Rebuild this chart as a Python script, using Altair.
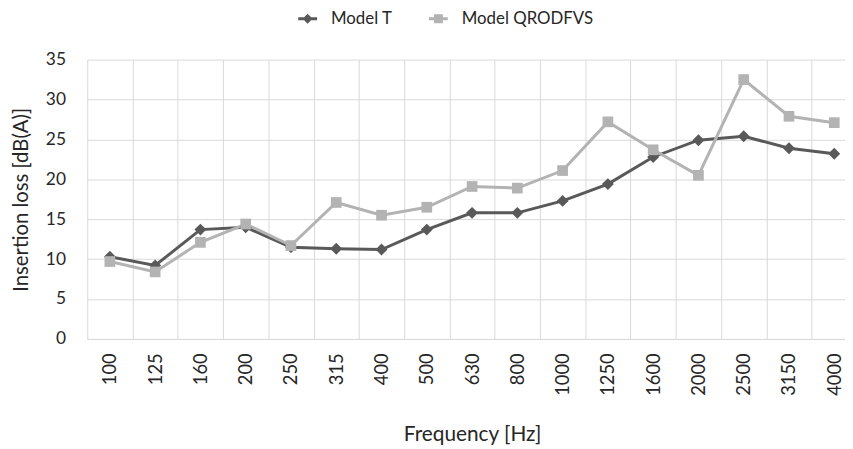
import altair as alt
import pandas as pd

frequencies = ["100", "125", "160", "200", "250", "315", "400", "500", "630",
               "800", "1000", "1250", "1600", "2000", "2500", "3150", "4000"]
model_t = [10.3, 9.2, 13.7, 14.0, 11.5, 11.3, 11.2, 13.7, 15.8,
           15.8, 17.3, 19.4, 22.8, 24.9, 25.4, 23.9, 23.2]
model_qrodfvs = [9.7, 8.4, 12.1, 14.4, 11.7, 17.1, 15.5, 16.5, 19.1,
                 18.9, 21.1, 27.2, 23.7, 20.5, 32.5, 27.9, 27.1]
series_names = ["Model T", "Model QRODFVS"]
series_colors = ["#595959", "#b3b3b3"]
marker_paths = ["M0,-1L1,0L0,1L-1,0Z",
                "M-0.9,-0.9H0.9V0.9H-0.9Z"]
legend_paths = ["M-1.9,-0.3H1.9V0.3H-1.9Z M0,-1L1,0L0,1L-1,0Z",
                "M-1.9,-0.3H1.9V0.3H-1.9Z M-0.9,-0.9H0.9V0.9H-0.9Z"]

rows = []
for name, vals in zip(series_names, [model_t, model_qrodfvs]):
    for f, v in zip(frequencies, vals):
        rows.append({"freq": f, "series": name, "value": v})
df = pd.DataFrame(rows)

FONT = "Lato"
TXT = "#262626"

legend = alt.Legend(
    title=None, orient="none", direction="horizontal",
    legendX=214, legendY=-50, symbolSize=100, symbolStrokeWidth=0,
    labelOffset=15, columnPadding=36, labelFontSize=17, labelFont=FONT,
    labelColor=TXT,
)

x_enc = alt.X(
    "freq:N", sort=frequencies, title="Frequency [Hz]",
    scale=alt.Scale(paddingInner=0, paddingOuter=0, range=[0, 777]),
    axis=alt.Axis(
        labelAngle=270, labelAlign="right", labelBaseline="middle",
        labelPadding=14, ticks=False, grid=True, tickBand="extent",
        gridColor="#d9d9d9", gridWidth=1, domainColor="#d9d9d9",
        domainWidth=1, labelFontSize=18.5, labelFont=FONT, labelColor=TXT,
        titleFontSize=21, titleFont=FONT, titleFontWeight="normal",
        titleColor=TXT, titleY=97, titleBaseline="middle",
    ),
)
y_enc = alt.Y(
    "value:Q", title="Insertion loss [dB(A)]",
    scale=alt.Scale(domain=[0, 35], nice=False),
    axis=alt.Axis(
        values=[0, 5, 10, 15, 20, 25, 30, 35], ticks=False, domain=False,
        gridColor="#d9d9d9", gridWidth=1, labelPadding=22,
        labelFontSize=17.5, labelFont=FONT, labelColor=TXT,
        titleFontSize=20.5, titleFont=FONT, titleFontWeight="normal",
        titleColor=TXT, titleX=-66, titleY=141, titleAngle=270,
        titleAlign="center", titleBaseline="middle",
    ),
)

base = alt.Chart(df)
color_scale = alt.Scale(domain=series_names, range=series_colors)

line_t = base.transform_filter(
    alt.datum.series == series_names[0]
).mark_line(strokeWidth=3, color=series_colors[0]).encode(x=x_enc, y=y_enc)

line_q = base.transform_filter(
    alt.datum.series == series_names[1]
).mark_line(strokeWidth=3, color=series_colors[1]).encode(x=x_enc, y=y_enc)

points = base.mark_point(filled=True, size=144, opacity=1).encode(
    x=x_enc, y=y_enc,
    color=alt.Color("series:N", scale=color_scale, legend=None),
    shape=alt.Shape("series:N",
                    scale=alt.Scale(domain=series_names, range=marker_paths),
                    legend=None),
)

# legend-only layer (no rows drawn)
legend_layer = base.transform_filter("false").mark_point(
    filled=True, opacity=1
).encode(
    x=x_enc, y=y_enc,
    color=alt.Color("series:N", scale=color_scale, legend=legend),
    shape=alt.Shape("series:N",
                    scale=alt.Scale(domain=series_names, range=legend_paths),
                    legend=legend),
)

chart = (line_t + line_q + points + legend_layer).resolve_scale(
    shape="independent"
).resolve_legend(
    color="independent", shape="independent"
).properties(
    width=765, height=282,
    autosize=alt.AutoSizeParams(type="none"),
    padding={"left": 80, "top": 50, "right": 0, "bottom": 109},
).configure_view(stroke=None)

chart.save("out.html", embed_options={"renderer": "svg", "actions": False})
